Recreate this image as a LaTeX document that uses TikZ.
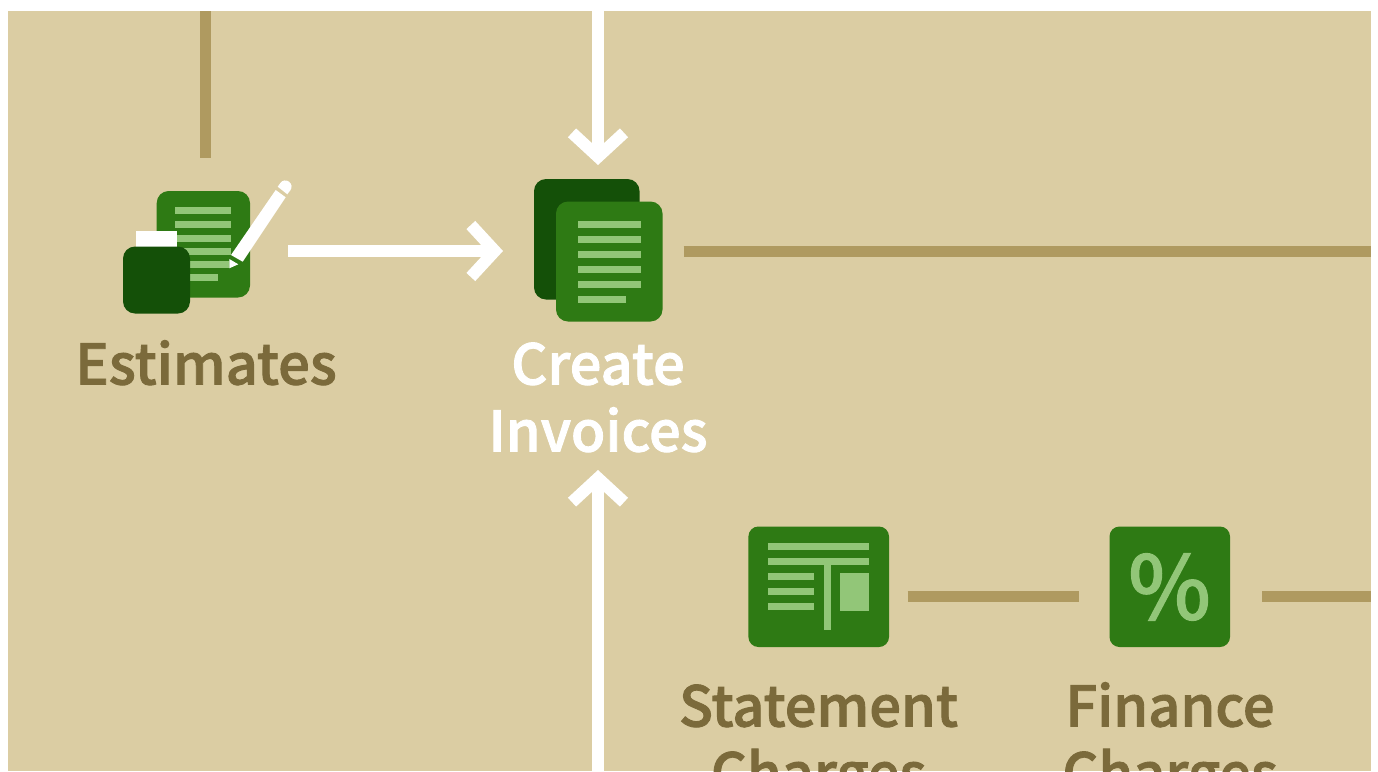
\documentclass[tikz,border=0pt]{standalone}
\usepackage{fontspec}
\setmainfont{Noto Sans CJK SC}
\newfontfamily\labelfont[FakeBold=1.6]{Noto Sans CJK SC Medium}
\newfontfamily\pctfont[FakeBold=1.2]{Noto Sans CJK SC Medium}
\usetikzlibrary{arrows.meta}
\definecolor{bgtan}{HTML}{DBCDA3}
\definecolor{linetan}{HTML}{AF9A60}
\definecolor{txttan}{HTML}{7B6A3B}
\definecolor{leaf}{HTML}{2E7A14}
\definecolor{darkleaf}{HTML}{145008}
\definecolor{lightleaf}{HTML}{92C678}
\tikzset{
  every node/.style={inner sep=0pt,outer sep=0pt},
  tanline/.style={draw=linetan,line width=11.5pt},
  whitearrow/.style={draw=white,line width=11.5pt,-{Straight Barb[length=24pt,width=52pt,line width=12pt]}},
  bar/.style={fill=lightleaf},
  paper/.style={fill=leaf,rounded corners=12pt},
  dark/.style={fill=darkleaf,rounded corners=12pt},
  lbl/.style={anchor=base,align=center,font=\labelfont\fontsize{56}{67}\selectfont},
  darklbl/.style={lbl,text=txttan},
  whitelbl/.style={lbl,text=white},
}
\begin{document}
\begin{tikzpicture}[x=1pt,y=-1pt]
\useasboundingbox (0,0) rectangle (1378,771);
\clip (0,0) rectangle (1378,771);
\fill[bgtan] (8,11) rectangle (1371,771);

% coordinates for connector ends
\coordinate (estTop) at (205.5,11);
\coordinate (estEnd) at (205.5,158);
\coordinate (topIn) at (598,11);
\coordinate (topTip) at (598,165);
\coordinate (botIn) at (598,771);
\coordinate (botTip) at (598,470);
\coordinate (estOut) at (288,251);
\coordinate (invIn) at (503,251);
\coordinate (invOut) at (683.5,251.5);
\coordinate (rightEdge) at (1371,251.5);
\coordinate (stOut) at (907.5,596.5);
\coordinate (finIn) at (1079,596.5);
\coordinate (finOut) at (1262,596.5);
\coordinate (rightEdge2) at (1371,596.5);

% connectors
\draw[tanline] (estTop) -- (estEnd);
\draw[tanline] (invOut) -- (rightEdge);
\draw[tanline] (stOut) -- (finIn);
\draw[tanline] (finOut) -- (rightEdge2);
\draw[whitearrow] (topIn) -- (topTip);
\draw[whitearrow] (botIn) -- (botTip);
\draw[whitearrow] (estOut) -- (invIn);

% Estimates icon
\fill[paper] (156.7,191) rectangle (250,297.5);
\foreach \y in {207.3,221,234.6,248,261}
  \fill[bar] (175,\y) rectangle (231,\y+7);
\fill[bar] (175,274) rectangle (218,281);
\fill[leaf] (231,255) -- (242.7,261.7) -- (241,272) -- (229.3,272) -- (229.3,255) -- cycle;
\fill[white] (136,231) rectangle (177,247);
\fill[dark] (123,246.5) rectangle (190,313.5);
\fill[white] (231,255) -- (242.7,261.7) -- (285.7,197.3) -- (275.7,190) -- cycle;
\fill[white] (277.7,186.7) [rounded corners=6pt] -- (284,178) -- (294,185.5) [sharp corners] -- (287.3,194.3) -- cycle;
\fill[white] (229.3,259) -- (229.3,268.3) -- (238.3,264.3) -- cycle;
\node[darklbl] (estimates) at (206,384.5) {Estimates};

% Create Invoices icon
\fill[dark] (534,179) rectangle (639.5,299.5);
\fill[paper] (556,201.5) rectangle (662.5,321.5);
\foreach \y in {220.7,235.7,250.7,265.7,280.7}
  \fill[bar] (578,\y) rectangle (641,\y+7.2);
\fill[bar] (578,296) rectangle (626,303);
\node[whitelbl] (invoices) at (598,451.5) {Create\\Invoices};

% Statement Charges icon
\fill[paper,rounded corners=10pt] (748.4,526.5) rectangle (889,647);
\foreach \y in {543.3,558.3}
  \fill[bar] (767.7,\y) rectangle (869,\y+7);
\foreach \y in {573.3,588.3,603.3}
  \fill[bar] (767.7,\y) rectangle (814,\y+7);
\fill[bar] (824,565) rectangle (831,630);
\fill[bar] (840,572.7) rectangle (869,611);
\node[darklbl] (statement) at (818.5,793.5) {Statement\\Charges};

% Finance Charges icon
\fill[paper,rounded corners=10pt] (1109.5,526.5) rectangle (1230,647);
\node[text=lightleaf,font=\pctfont\fontsize{88}{88}\selectfont,anchor=center] (percent) at (1169.5,587) {\%};
\node[darklbl] (finance) at (1170,793.5) {Finance\\Charges};
\end{tikzpicture}
\end{document}
